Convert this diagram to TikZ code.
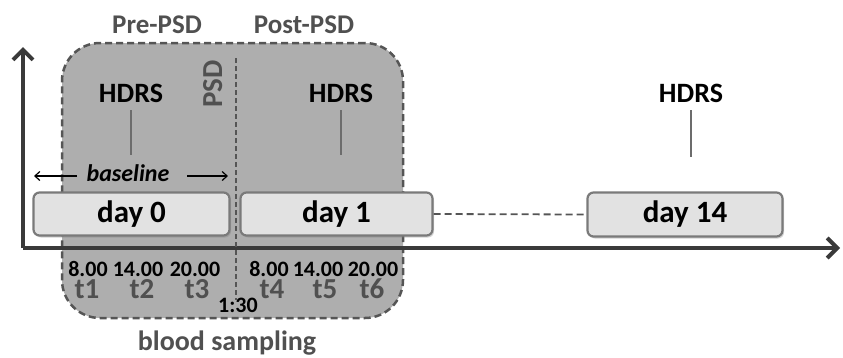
\documentclass[tikz,border=0pt]{standalone}
\usepackage{fontspec}
\setmainfont{Carlito}
\usetikzlibrary{arrows.meta,shadows}
\definecolor{boxgray}{HTML}{AEAEAE}
\definecolor{edgegray}{HTML}{555555}
\definecolor{daygray}{HTML}{E2E2E2}
\definecolor{dayedge}{HTML}{7A7A7A}
\definecolor{axisgray}{HTML}{3A3A3A}
\definecolor{txtgray}{HTML}{505050}
\tikzset{
  psdbox/.style={draw=edgegray, fill=boxgray, line width=2.5pt, dash pattern=on 7pt off 4pt, rounded corners=38pt, inner sep=0pt},
  daybox/.style={draw=dayedge, fill=daygray, line width=2.2pt, rounded corners=6pt, inner sep=0pt,
     drop shadow={opacity=0.35, shadow xshift=1.5pt, shadow yshift=-2pt},
     font=\fontsize{31}{33}\selectfont\bfseries},
  hdrs/.style={anchor=base, font=\fontsize{28}{30}\selectfont\bfseries, text=black, inner sep=0pt},
  phase/.style={anchor=base, font=\fontsize{27}{29}\selectfont\bfseries, text=txtgray, inner sep=0pt},
  tlab/.style={anchor=base, font=\fontsize{22}{24}\selectfont\bfseries, text=black, inner sep=0pt},
  tnum/.style={anchor=base, font=\fontsize{29}{31}\selectfont\bfseries, text=txtgray, inner sep=0pt},
  tick/.style={draw=gray!85!black, line width=1.3pt},
  axis/.style={draw=axisgray, line width=4pt, -{Straight Barb[length=10pt,width=20pt]}},
  thinarrow/.style={draw=black, line width=1.2pt, -{Straight Barb[length=5pt,width=9pt]}},
}
\begin{document}
\begin{tikzpicture}[x=1pt,y=-1pt]
\useasboundingbox (0,0) rectangle (843,357);

% gray PSD region
\node[psdbox, minimum width=341pt, minimum height=275pt] (psd) at (232.5,180.5) {};

% axes
\coordinate (origin) at (23,248);
\coordinate (ytop) at (23,47);
\coordinate (xend) at (840,248);
\draw[axis] (origin) -- (ytop);
\draw[axis] (origin) -- (xend);

% PSD line
\coordinate (psdtop) at (236,58);
\coordinate (psdbot) at (236,300);
\draw[edgegray, line width=1.2pt, dash pattern=on 5pt off 3pt] (psdtop) -- (psdbot);
\node[anchor=base, rotate=90, font=\fontsize{29}{31}\selectfont\bfseries, text=txtgray, inner sep=0pt] (psdlab) at (222,84) {PSD};

% phase labels
\node[phase] (pre) at (157,33) {Pre-PSD};
\node[phase] (post) at (304,33) {Post-PSD};

% HDRS
\node[hdrs] (h1) at (131,102) {HDRS};
\node[hdrs] (h2) at (341,102) {HDRS};
\node[hdrs] (h3) at (691,102) {HDRS};
\coordinate (h1a) at (131,110); \coordinate (h1b) at (131,155);
\coordinate (h2a) at (341,110); \coordinate (h2b) at (341,155);
\coordinate (h3a) at (691,110); \coordinate (h3b) at (691,157);
\draw[tick] (h1a) -- (h1b);
\draw[tick] (h2a) -- (h2b);
\draw[tick] (h3a) -- (h3b);

% baseline
\node[anchor=base, font=\fontsize{24}{26}\selectfont\bfseries\itshape, inner sep=0pt] (bl) at (128,181) {baseline};
\coordinate (blL) at (34,176);
\coordinate (blR) at (228,176);
\draw[thinarrow] (77,176) -- (blL);
\draw[thinarrow] (187,176) -- (blR);

% day boxes
\node[daybox, minimum width=196pt, minimum height=43pt] (d0) at (131.5,214) {day 0};
\node[daybox, minimum width=192pt, minimum height=43pt] (d1) at (336.5,214) {day 1};
\node[daybox, minimum width=195pt, minimum height=44pt] (d14) at (685,214.5) {day 14};
\draw[edgegray, line width=1.8pt, dash pattern=on 7pt off 4pt] (d1.east) -- (d14.west);

% sampling times
\node[tlab] (a1) at (88,276) {8.00};
\node[tlab] (a2) at (138,276) {14.00};
\node[tlab] (a3) at (195,276) {20.00};
\node[tlab] (a4) at (269,276) {8.00};
\node[tlab] (a5) at (318,276) {14.00};
\node[tlab] (a6) at (373,276) {20.00};
\node[tnum] (t1) at (87,298) {t1};
\node[tnum] (t2) at (142,298) {t2};
\node[tnum] (t3) at (197,298) {t3};
\node[tnum] (t4) at (272,298) {t4};
\node[tnum] (t5) at (325,298) {t5};
\node[tnum] (t6) at (372,298) {t6};
\node[tlab] (t130) at (238,312) {1:30};

\node[phase, font=\fontsize{28}{30}\selectfont\bfseries] (blood) at (227,350) {blood sampling};
\end{tikzpicture}
\end{document}
